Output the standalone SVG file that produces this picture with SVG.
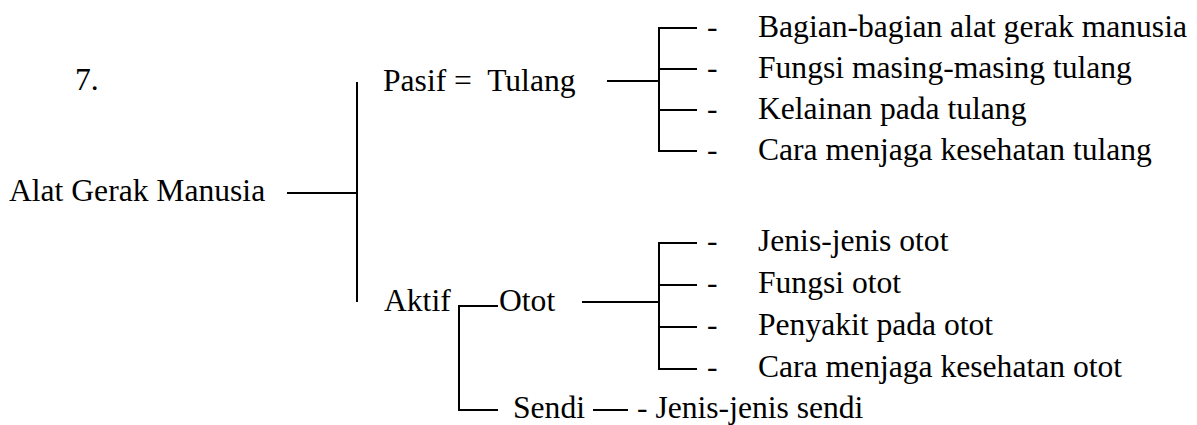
<svg xmlns="http://www.w3.org/2000/svg" width="1197" height="425" viewBox="0 0 1197 425">
<style>
.t{font-family:'Liberation Serif','Times New Roman',serif;font-size:31.6px;fill:#000}
.c line{stroke:#000;stroke-width:2;fill:none}
</style>
<rect width="1197" height="425" fill="#fff"/>
<g class="t">
<g id="num"><text x="75" y="90">7.</text></g>
<g id="root"><text x="9" y="201">Alat Gerak Manusia</text></g>
<g id="pasif"><text x="383" y="91" xml:space="preserve">Pasif =  Tulang</text></g>
<g id="aktif"><text x="384" y="311">Aktif</text></g>
<g id="otot"><text x="499" y="311">Otot</text></g>
<g id="sendi"><text x="513" y="418">Sendi</text></g>
<g id="sendi-item"><text x="637" y="418">- Jenis-jenis sendi</text></g>
<g id="tulang-items">
<text x="707" y="37">-</text><text x="758" y="37">Bagian-bagian alat gerak manusia</text>
<text x="707" y="78">-</text><text x="758" y="78">Fungsi masing-masing tulang</text>
<text x="707" y="119">-</text><text x="758" y="119">Kelainan pada tulang</text>
<text x="707" y="160">-</text><text x="758" y="160">Cara menjaga kesehatan tulang</text>
</g>
<g id="otot-items">
<text x="707" y="251">-</text><text x="758" y="251">Jenis-jenis otot</text>
<text x="707" y="293">-</text><text x="758" y="293">Fungsi otot</text>
<text x="707" y="335">-</text><text x="758" y="335">Penyakit pada otot</text>
<text x="707" y="377">-</text><text x="758" y="377">Cara menjaga kesehatan otot</text>
</g>
</g>
<g id="connectors" class="c">
<line x1="287" y1="193" x2="357" y2="193"/>
<line x1="357" y1="82" x2="357" y2="302"/>
<line x1="607" y1="81" x2="659" y2="81"/>
<line x1="659" y1="28" x2="659" y2="151"/>
<line x1="658" y1="28" x2="697" y2="28"/>
<line x1="659" y1="69" x2="697" y2="69"/>
<line x1="659" y1="110" x2="697" y2="110"/>
<line x1="658" y1="151" x2="697" y2="151"/>
<line x1="582" y1="302" x2="659" y2="302"/>
<line x1="659" y1="243" x2="659" y2="369"/>
<line x1="658" y1="243" x2="697" y2="243"/>
<line x1="659" y1="285" x2="697" y2="285"/>
<line x1="659" y1="327" x2="697" y2="327"/>
<line x1="658" y1="369" x2="697" y2="369"/>
<line x1="459" y1="306" x2="459" y2="410"/>
<line x1="458" y1="306" x2="498" y2="306"/>
<line x1="458" y1="410" x2="498" y2="410"/>
<line x1="593" y1="410" x2="628" y2="410"/>
</g>
</svg>
